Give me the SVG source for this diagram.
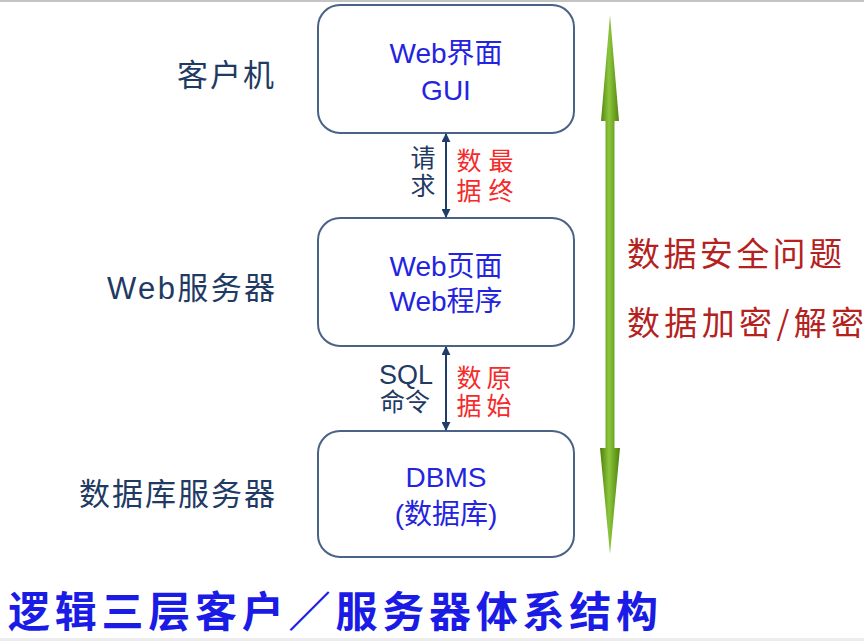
<svg xmlns="http://www.w3.org/2000/svg" width="864" height="641" viewBox="0 0 864 641">
<defs>
<style>
.box{fill:#ffffff;stroke:#4a6285;stroke-width:2}
.lbl{font-family:"Noto Sans CJK SC","Noto Sans",sans-serif;font-size:31px;fill:#1f3a63}
.lblw{font-family:"Liberation Sans","Noto Sans CJK SC",sans-serif;font-size:31px;fill:#1f3a63}
.bt{font-family:"Liberation Sans","Noto Sans CJK SC",sans-serif;font-size:28px;fill:#2424e0;text-anchor:middle}
.cn{font-family:"Liberation Sans","Noto Sans CJK SC",sans-serif;font-size:25px;fill:#1f3a63}
.vt{font-family:"Noto Sans CJK SC",sans-serif;font-size:25px;writing-mode:vertical-rl;text-orientation:upright}
.vn{fill:#1f3a63}
.vr{fill:#f52a2a}
.rr{font-family:"Noto Sans CJK SC",sans-serif;font-size:33px;fill:#b3221e}
.ttl{font-family:"Noto Sans CJK SC",sans-serif;font-size:42px;font-weight:bold;fill:#1b1be6}
.conn{stroke:#1f3d6b;stroke-width:2;fill:none;marker-start:url(#ah);marker-end:url(#ah)}
</style>
<marker id="ah" viewBox="0 0 10 10" refX="9" refY="5" markerWidth="9" markerHeight="9" markerUnits="userSpaceOnUse" orient="auto-start-reverse">
<path d="M0,0 L10,5 L0,10 z" fill="#1f3d6b"/>
</marker>
<linearGradient id="gg" x1="0" y1="0" x2="1" y2="0">
<stop offset="0" stop-color="#4f7f0c"/>
<stop offset="0.45" stop-color="#8cc63c"/>
<stop offset="1" stop-color="#4f7f0c"/>
</linearGradient>
</defs>
<rect x="0" y="0" width="864" height="641" fill="#ffffff"/>
<rect x="0" y="0" width="864" height="2" fill="#c4c4c4"/>
<rect x="0" y="638" width="864" height="3" fill="#ededed"/>

<g id="label-client"><text class="lbl" x="177" y="86" textLength="97">客户机</text></g>
<g id="label-webserver"><text class="lblw" x="107" y="299" textLength="168">Web服务器</text></g>
<g id="label-dbserver"><text class="lbl" x="79" y="505" textLength="196">数据库服务器</text></g>

<g id="node-gui">
<rect class="box" x="318" y="5" width="256" height="128" rx="22"/>
<text class="bt" x="446" y="63">Web界面</text>
<text class="bt" x="446" y="100">GUI</text>
</g>
<g id="node-web">
<rect class="box" x="318" y="218" width="256" height="128" rx="22"/>
<text class="bt" x="446" y="276">Web页面</text>
<text class="bt" x="446" y="311">Web程序</text>
</g>
<g id="node-db">
<rect class="box" x="318" y="431" width="256" height="126" rx="22"/>
<text class="bt" x="446" y="487">DBMS</text>
<text class="bt" x="446" y="524">(数据库)</text>
</g>

<g id="connectors">
<line class="conn" x1="446" y1="134" x2="446" y2="217"/>
<line class="conn" x1="446" y1="347" x2="446" y2="430"/>
<path d="M610,15 L619,121 L614.5,121 L614.5,448 L620,448 L610,554 L600,448 L605.5,448 L605.5,121 L601,121 Z" fill="url(#gg)"/>
</g>

<g id="label-request">
<text class="vt vn" x="423" y="144.5" letter-spacing="3">请求</text>
<text class="vt vr" x="501" y="147.5" letter-spacing="5">最终</text>
<text class="vt vr" x="469" y="147.5" letter-spacing="5">数据</text>
</g>
<g id="label-sql">
<text class="cn"><tspan x="379" y="384" font-size="27">SQL</tspan><tspan x="380" y="411">命令</tspan></text>
<text class="vt vr" x="499" y="364.5" letter-spacing="3">原始</text>
<text class="vt vr" x="469" y="364.5" letter-spacing="3">数据</text>
</g>

<g id="security">
<text class="rr" x="627" y="266" textLength="215">数据安全问题</text>
<text class="rr" x="627" y="335" textLength="237">数据加密/解密</text>
</g>

<g id="title"><text class="ttl" x="8" y="627" textLength="650">逻辑三层客户／服务器体系结构</text></g>
</svg>
